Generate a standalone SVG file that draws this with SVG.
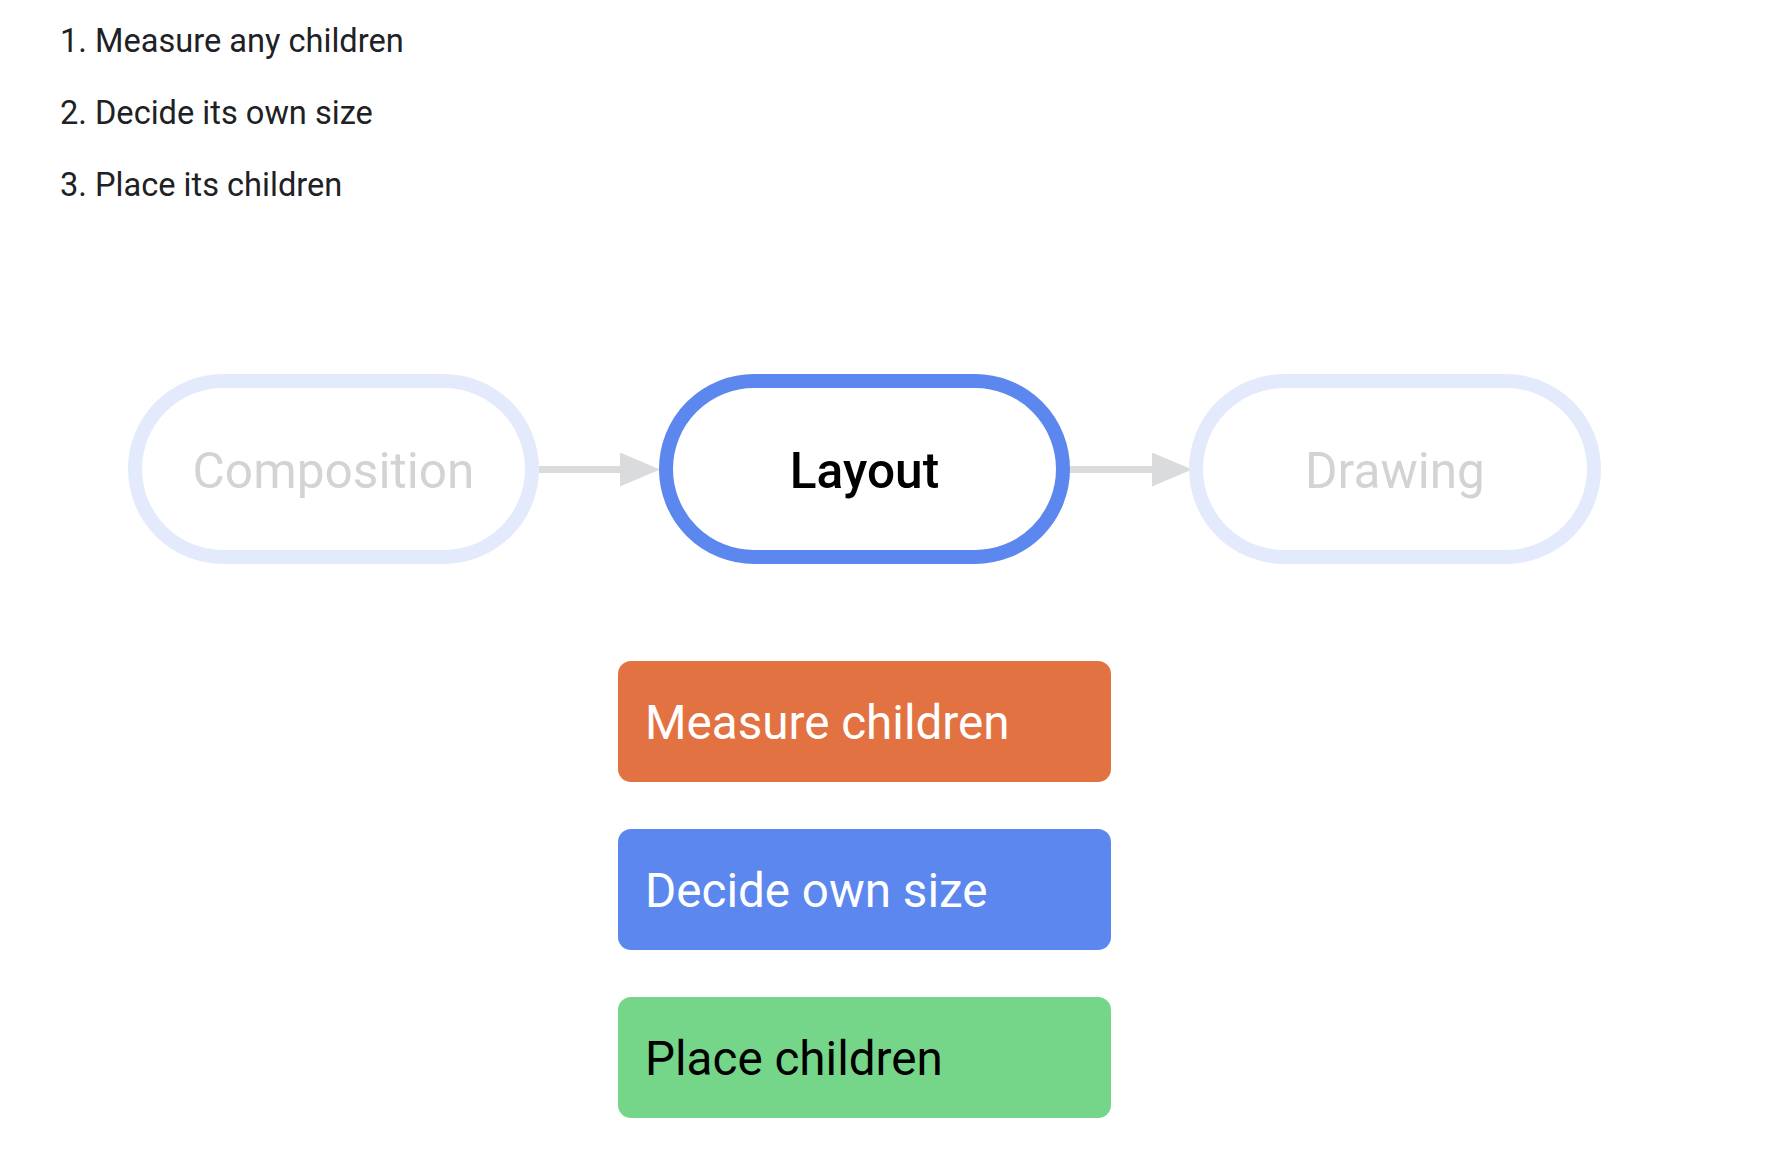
<svg xmlns="http://www.w3.org/2000/svg" width="1774" height="1172" viewBox="0 0 1774 1172">
  <style>
    .list { font-family: Roboto, "Liberation Sans", sans-serif; font-size: 32.6px; fill: #202124; }
    .pill { fill: #ffffff; stroke-width: 14; }
    .faded { stroke: #E3EAFB; }
    .active { stroke: #5B87EE; }
    .ptext { font-family: Roboto, "Liberation Sans", sans-serif; font-size: 49.6px; text-anchor: middle; }
    .ftext { fill: #D3D3D3; }
    .atext { fill: #000000; font-weight: 500; }
    .btext { font-family: Roboto, "Liberation Sans", sans-serif; font-size: 47.6px; }
    .conn { stroke: #D9DBDD; stroke-width: 7; fill: none; }
  </style>
  <defs>
    <marker id="arrow" markerUnits="userSpaceOnUse" markerWidth="40" markerHeight="34" refX="0" refY="17" orient="auto">
      <path d="M0,0 L40,17 L0,34 Z" fill="#D9DBDD"/>
    </marker>
  </defs>
  <rect width="1774" height="1172" fill="#ffffff"/>

  <g id="steps-list">
    <text class="list" x="60" y="52">1. Measure any children</text>
    <text class="list" x="60" y="124">2. Decide its own size</text>
    <text class="list" x="60" y="196">3. Place its children</text>
  </g>

  <g id="connectors">
    <line class="conn" x1="539" y1="469.5" x2="620" y2="469.5" marker-end="url(#arrow)"/>
    <line class="conn" x1="1070" y1="469.5" x2="1152" y2="469.5" marker-end="url(#arrow)"/>
  </g>

  <g id="composition">
    <rect class="pill faded" x="135" y="381" width="397" height="176" rx="88"/>
    <text class="ptext ftext" x="333.5" y="488">Composition</text>
  </g>
  <g id="layout">
    <rect class="pill active" x="666" y="381" width="397" height="176" rx="88"/>
    <text class="ptext atext" x="864.5" y="488">Layout</text>
  </g>
  <g id="drawing">
    <rect class="pill faded" x="1196" y="381" width="398" height="176" rx="88"/>
    <text class="ptext ftext" x="1395" y="488">Drawing</text>
  </g>

  <g id="measure-children">
    <rect x="618" y="661" width="493" height="121" rx="13" fill="#E37243"/>
    <text class="btext" x="645" y="739" fill="#ffffff">Measure children</text>
  </g>
  <g id="decide-own-size">
    <rect x="618" y="829" width="493" height="121" rx="13" fill="#5B87EE"/>
    <text class="btext" x="645" y="907" fill="#ffffff">Decide own size</text>
  </g>
  <g id="place-children">
    <rect x="618" y="997" width="493" height="121" rx="13" fill="#75D68A"/>
    <text class="btext" x="645" y="1075" fill="#000000">Place children</text>
  </g>
</svg>
